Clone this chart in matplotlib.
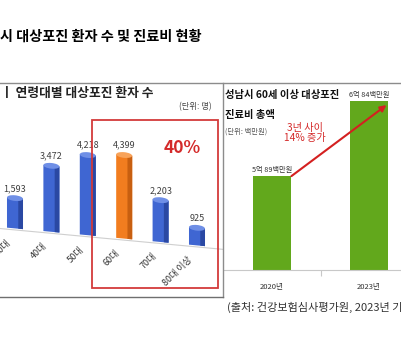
import numpy as np
import matplotlib
matplotlib.use("Agg")
import matplotlib.pyplot as plt
from matplotlib.patches import Rectangle, Ellipse
from matplotlib.lines import Line2D
from matplotlib.transforms import Affine2D

plt.rcParams['font.family'] = ['Noto Sans CJK KR', 'DejaVu Sans']

# 연령대별 대상포진 환자 수 (단위: 명)
ages = ["30대", "40대", "50대", "60대", "70대", "80대 이상"]
patients = [1593, 3472, 4218, 4399, 2203, 925]
highlight = "60대"

# 60세 이상 대상포진 진료비 총액 (단위: 백만원)
years = ["2020년", "2023년"]
costs = [589, 684]

W, H = 402, 350
fig = plt.figure(figsize=(W / 100, H / 100), dpi=100)
fig.patch.set_facecolor("white")


def fx(x):
    return x / W


def fy(y):
    return 1 - y / H


# 제목 (왼쪽이 잘린 원본 그대로)
fig.text(fx(202), fy(37), "성남시 대상포진 환자 수 및 진료비 현황", ha="right", va="center",
         fontsize=10.2, fontweight="bold", color="black")

# 테두리 선
fig.add_artist(Line2D([0, 1], [fy(83), fy(83)], color="#8c8c8c", lw=1))
fig.add_artist(Line2D([fx(223), fx(223)], [fy(83), fy(297)], color="#8c8c8c", lw=1))
fig.add_artist(Line2D([0, fx(223)], [fy(297), fy(297)], color="#6f6f6f", lw=1))

# ---- 왼쪽: 연령대별 환자 수 ----
fig.text(fx(1), fy(93), "ㅣ 연령대별 대상포진 환자 수", ha="left", va="center",
         fontsize=9.2, fontweight="bold", color="#222222")
fig.text(fx(212), fy(107), "(단위: 명)", ha="right", va="center", fontsize=6, color="#444444")

ax1 = fig.add_axes([0, 53 / H, 220 / W, 214 / H])
ax1.axis("off")
ax1.set_xlim(-0.412, 5.632)
ax1.set_ylim(-3684, 7579)
slope = -3.4 / 36.4
skew_t = ax1.transData + Affine2D().skew(0, np.arctan(slope))

idx = np.arange(len(ages))
bw = 0.44
for i, (a, v) in enumerate(zip(ages, patients)):
    if a == highlight:
        face, side, top = "#f27d1f", "#c85f10", "#f8a35a"
    else:
        face, side, top = "#3f66d2", "#2a48a3", "#6f8fe6"
    body = Rectangle((i - bw / 2, 0), bw, v, facecolor=face, edgecolor="none", transform=skew_t)
    ax1.add_patch(body)
    shade = Rectangle((i + bw / 2 - 0.13, 0), 0.13, v, facecolor=side, edgecolor="none", transform=skew_t)
    ax1.add_patch(shade)
    cap = Ellipse((i, v), bw, 300, facecolor=top, edgecolor="none", transform=skew_t)
    ax1.add_patch(cap)
    ax1.text(i, v + 280, f"{v:,}", ha="center", va="bottom", fontsize=6.5,
             color="#404040", transform=skew_t)
    ax1.text(i - 0.25, -560, a, rotation=45, ha="right", va="top", rotation_mode="anchor",
             fontsize=6.5, color="#333333", transform=skew_t)

ax1.plot([-0.5, 5.7], [-80, -80], color="#cfcfcf", lw=0.8, transform=skew_t, clip_on=False)

fig.add_artist(Rectangle((fx(92), fy(288)), 126 / W, 168 / H, transform=fig.transFigure,
                         fill=False, edgecolor="#d33a3a", lw=1.3))
fig.text(fx(182), fy(148), "40%", ha="center", va="center", fontsize=12.5,
         fontweight="bold", color="#d42a2a")

# ---- 오른쪽: 진료비 총액 ----
fig.text(fx(225), fy(95), "성남시 60세 이상 대상포진", ha="left", va="center",
         fontsize=7.4, fontweight="bold", color="#111111")
fig.text(fx(225), fy(115), "진료비 총액", ha="left", va="center",
         fontsize=7.4, fontweight="bold", color="#111111")
fig.text(fx(225), fy(132), "(단위: 백만원)", ha="left", va="center", fontsize=5.3, color="#555555")

ax2 = fig.add_axes([224 / W, 80 / H, 178 / W, 187 / H])
ax2.set_xlim(-0.495, 1.34)
ax2.set_ylim(470, 707)
ax2.set_facecolor("none")
for s in ["top", "right", "left"]:
    ax2.spines[s].set_visible(False)
ax2.spines["bottom"].set_color("#c8c8c8")
ax2.set_yticks([])
ax2.set_xticks([0.5], labels=[""])
ax2.tick_params(axis="x", which="major", length=4, color="#c8c8c8")
ax2.set_xticks([0, 1], labels=years, minor=True)
ax2.tick_params(axis="x", which="minor", length=0, pad=9, labelsize=5.5, labelcolor="#333333")

bw2 = 0.4
ax2.bar(range(len(years)), costs, width=bw2, bottom=0, color="#62a81c")
for i, v in enumerate(costs):
    ax2.text(i, v + 3, f"{v // 100}억 {v % 100}백만원", ha="center", va="bottom",
             fontsize=5.2, color="#333333")

ax2.annotate("", xy=(1 + bw2 / 2 - 0.02, costs[1] - 5), xytext=(bw2 / 2, costs[0]),
             arrowprops=dict(arrowstyle="-|>", color="#d42020", lw=1.5, mutation_scale=9,
                             shrinkA=0, shrinkB=0))
fig.text(fx(305), fy(133), "3년 사이\n14% 증가", ha="center", va="center", fontsize=7.3,
         color="#d42a2a", linespacing=1.05)

fig.text(fx(227), fy(307), "(출처: 건강보험심사평가원, 2023년 기준)", ha="left", va="center",
         fontsize=8, color="#333333")

fig.savefig("out.png", dpi=100, facecolor="white")
